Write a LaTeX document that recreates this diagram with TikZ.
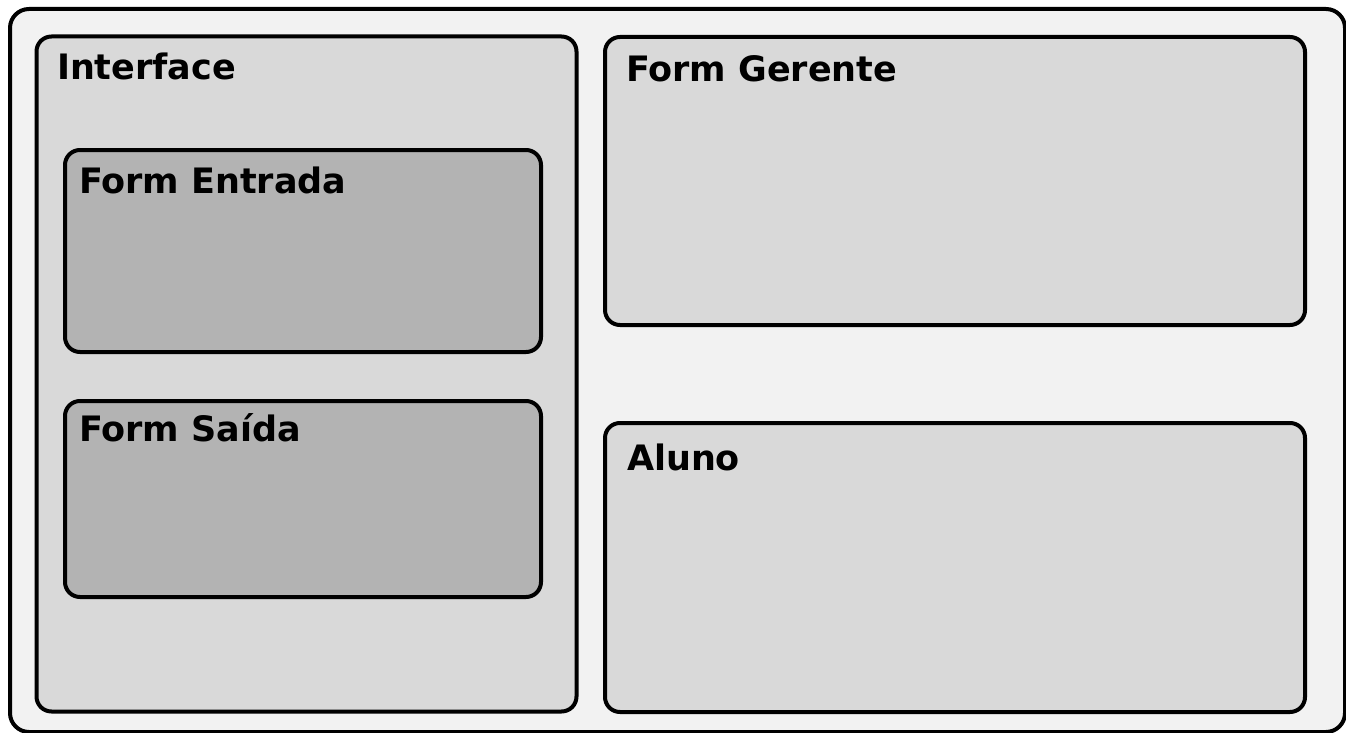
\documentclass[tikz,border=0pt]{standalone}
\usepackage{fontspec}
\setmainfont{DejaVu Sans}
\definecolor{outerfill}{HTML}{F2F2F2}
\definecolor{panelfill}{HTML}{D9D9D9}
\definecolor{formfill}{HTML}{B3B3B3}
\begin{document}
\begin{tikzpicture}
    [
      x=1pt, y=-1pt,
      line width=4pt,
      rounded corners=15pt,
      box/.style=
      {
        draw=black,
        inner sep=0pt,
        anchor=north west,
      },
      panel/.style=
      {
        box,
        fill=panelfill,
      },
      form/.style=
      {
        box,
        fill=formfill,
      },
      title/.style=
      {
        anchor=base west,
        inner sep=0pt,
        text=black,
        font=\fontsize{35}{42}\selectfont\bfseries
      }
    ]
    \useasboundingbox (0,0) rectangle (1346,733);
    \node[box, fill=outerfill, rounded corners=19pt, minimum width=1335pt, minimum height=723pt](Frame) at (8,7) {};

    % left column
    \node[panel, minimum width=540pt, minimum height=675pt](Interface) at (34.5,34.5) {};
    \node[title](InterfaceTitle) at (55,80) {Interface};
    \node[form, minimum width=476pt, minimum height=202pt](Entrada) at (63,148) {};
    \node[title](EntradaTitle) at (77,193) {Form Entrada};
    \node[form, minimum width=476pt, minimum height=196pt](Saida) at (63,399) {};
    \node[title](SaidaTitle) at (77,441) {Form Saída};

    % right column
    \node[panel, minimum width=700pt, minimum height=288pt](Gerente) at (603,35) {};
    \node[title](GerenteTitle) at (624,82) {Form Gerente};
    \node[panel, minimum width=700pt, minimum height=289pt](Aluno) at (603,421) {};
    \node[title](AlunoTitle) at (625,470) {Aluno};
  \end{tikzpicture}
\end{document}
